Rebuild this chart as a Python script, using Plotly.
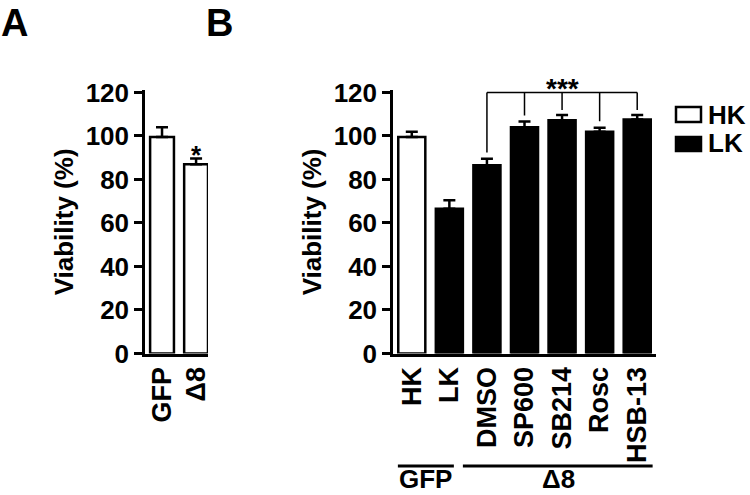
import plotly.graph_objects as go

# ---------------- data ----------------
a_categories = ["GFP", "Δ8"]
a_values = [99.5, 87.0]
a_err_plus = [4.5, 2.6]

b_hk_categories = ["HK"]
b_hk_values = [99.5]
b_hk_err_plus = [2.5]

b_lk_categories = ["LK", "DMSO", "SP600", "SB214", "Rosc", "HSB-13"]
b_lk_values = [66.5, 86.5, 104.0, 107.3, 102.0, 107.6]
b_lk_err_plus = [4.0, 3.0, 2.7, 2.4, 1.8, 2.1]

b_categories = b_hk_categories + b_lk_categories

# significance bracket (B): DMSO vs each inhibitor
bracket_level = 120
bracket_targets = ["DMSO", "SP600", "SB214", "Rosc", "HSB-13"]
bracket_ends = [92.4, 109.4, 112.0, 106.8, 112.0]

y_ticks = [0, 20, 40, 60, 80, 100, 120]

# ---------------- style ----------------
FONT = "Liberation Sans, Arial, Helvetica, sans-serif"
W, H = 750, 495
LW = 2.5

def px(x):
    return x / W

def py(y):
    return 1 - y / H

fig = go.Figure()

fig.add_trace(go.Bar(
    x=a_categories, y=a_values, xaxis="x", yaxis="y",
    width=0.7, marker=dict(color="white", line=dict(color="black", width=LW)),
    error_y=dict(type="data", array=a_err_plus, arrayminus=[0] * len(a_values),
                 symmetric=False, color="black", thickness=LW, width=6),
    showlegend=False, name="A",
))
fig.add_trace(go.Bar(
    x=b_hk_categories, y=b_hk_values, xaxis="x2", yaxis="y2",
    width=0.72, marker=dict(color="white", line=dict(color="black", width=LW)),
    error_y=dict(type="data", array=b_hk_err_plus, arrayminus=[0] * len(b_hk_values),
                 symmetric=False, color="black", thickness=LW, width=6),
    showlegend=False, name="HK",
))
fig.add_trace(go.Bar(
    x=b_lk_categories, y=b_lk_values, xaxis="x2", yaxis="y2",
    width=0.72, marker=dict(color="black", line=dict(color="black", width=LW)),
    error_y=dict(type="data", array=b_lk_err_plus, arrayminus=[0] * len(b_lk_values),
                 symmetric=False, color="black", thickness=LW, width=6),
    showlegend=False, name="LK",
))

ydom = [py(353.5), py(353.5 - 121 * 2.175)]
ytickfont = dict(family=FONT, size=26, color="black", weight="bold")
xtickfont = dict(family=FONT, size=27, color="black", weight="bold")
titlefont = dict(family=FONT, size=26, color="black", weight="bold")

yaxis_common = dict(
    range=[0, 121], tickvals=y_ticks, showline=True, linecolor="black", linewidth=LW,
    ticks="outside", ticklen=8, tickwidth=LW, tickcolor="black", showgrid=False,
    zeroline=False, tickfont=ytickfont, domain=ydom, automargin=False,
    title=dict(text="Viability (%)", font=titlefont, standoff=5),
)
xaxis_common = dict(
    type="category", showline=True, linecolor="black", linewidth=LW, ticks="",
    showgrid=False, zeroline=False, tickangle=-90, tickfont=xtickfont, automargin=False,
)

fig.update_layout(
    template="none",
    width=W, height=H, margin=dict(l=0, r=0, t=0, b=0, pad=0, autoexpand=False),
    paper_bgcolor="white", plot_bgcolor="white", barmode="overlay",
    xaxis=dict(xaxis_common, domain=[px(145), px(208)], range=[-0.5, 1.35],
               categoryorder="array", categoryarray=a_categories, anchor="y"),
    yaxis=dict(yaxis_common, anchor="x"),
    xaxis2=dict(xaxis_common, domain=[px(393), px(656)], range=[-0.5, 6.5],
                categoryorder="array", categoryarray=b_categories, anchor="y2"),
    yaxis2=dict(yaxis_common, anchor="x2"),
    showlegend=False,
)

shapes = []
# bracket
first = bracket_targets[0]
last = bracket_targets[-1]
shapes.append(dict(type="line", xref="x2", yref="y2", x0=first, x1=last,
                   y0=bracket_level, y1=bracket_level, line=dict(color="black", width=1.5)))
for cat, end in zip(bracket_targets, bracket_ends):
    shapes.append(dict(type="line", xref="x2", yref="y2", x0=cat, x1=cat,
                       y0=bracket_level, y1=end, line=dict(color="black", width=1.5)))

# group underlines
shapes.append(dict(type="line", xref="x2", yref="paper", x0=-0.37, x1=1.12,
                   y0=py(466), y1=py(466), line=dict(color="black", width=3)))
shapes.append(dict(type="line", xref="x2", yref="paper", x0=1.36, x1=6.41,
                   y0=py(466), y1=py(466), line=dict(color="black", width=3)))

# legend boxes
shapes.append(dict(type="rect", xref="paper", yref="paper", x0=px(676), x1=px(701),
                   y0=py(107), y1=py(122), fillcolor="white", line=dict(color="black", width=LW)))
shapes.append(dict(type="rect", xref="paper", yref="paper", x0=px(676), x1=px(701),
                   y0=py(137), y1=py(151), fillcolor="black", line=dict(color="black", width=LW)))
fig.update_layout(shapes=shapes)

ann = []
def text(x, y, s, size, xref="paper", yref="paper", xanchor="center", yanchor="middle"):
    ann.append(dict(x=x, y=y, xref=xref, yref=yref, text=s, showarrow=False,
                    xanchor=xanchor, yanchor=yanchor,
                    font=dict(family=FONT, size=size, color="black", weight="bold")))

text(px(-1), py(0), "A", 38, xanchor="left", yanchor="top")
text(px(204), py(0), "B", 38, xanchor="left", yanchor="top")
text(px(706), py(115), "HK", 26, xanchor="left")
text(px(706), py(143), "LK", 26, xanchor="left")
text(px(426), py(479), "GFP", 26)
text(px(558), py(479), "Δ8", 26)
text("SB214", py(88), "***", 28, xref="x2")
text("Δ8", py(155), "*", 26, xref="x")
fig.update_layout(annotations=ann)

fig.write_html("out.html", config={"displayModeBar": False},
               post_script="document.body.style.margin='0px';")
